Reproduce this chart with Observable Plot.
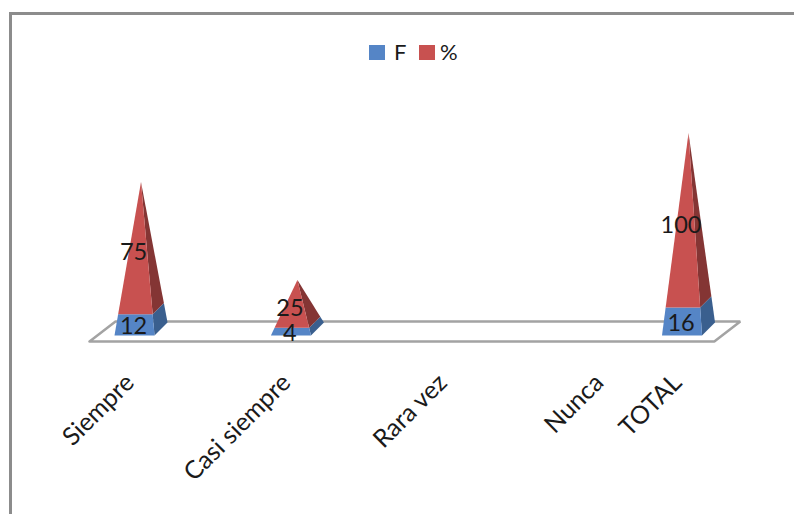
<!DOCTYPE html>
<html>
<head>
<meta charset="utf-8">
<script src="https://cdn.jsdelivr.net/npm/d3@7"></script>
<script src="https://cdn.jsdelivr.net/npm/@observablehq/plot@0.6"></script>
<style>
  html, body { margin: 0; padding: 0; background: #fff; overflow: hidden; }
  #sheet { position: relative; width: 794px; height: 514px; font-family: Lato, "Open Sans", sans-serif; color: #000; }
  #edge { position: absolute; left: 9px; top: 12px; right: 0; bottom: 0; border-top: 3px solid #8c8c8c; border-left: 3px solid #8c8c8c; }
  #legend { position: absolute; top: 38px; left: 369px; display: flex; align-items: center; font-size: 22px; line-height: 28px; color: #1a1a1a; }
  #legend i { display: inline-block; width: 16px; height: 15px; }
  #legend span { display: inline-block; width: 25px; margin: 0 0 0 9px; }
  #legend span:last-child { margin-left: 5px; width: auto; }
  #chart { position: absolute; left: 0; top: 80px; }
  #chart svg { display: block; background: transparent; }
</style>
</head>
<body>
<div id="sheet">
  <div id="edge"></div>
  <div id="legend"></div>
  <div id="chart"></div>
</div>
<script>
// Survey answers: frequency (F) and percentage (%) per response category.
const categories = ["Siempre", "Casi siempre", "Rara vez", "Nunca", "TOTAL"];
const slots = [0, 1, 2, 3, 3.5];
const frequency = [12, 4, null, null, 16];
const percent = [75, 25, null, null, 100];

const seriesNames = ["F", "%"];
const frontColors = ["#5585c6", "#c85150"];
const sideColors = ["#3a5f8e", "#843534"];

// Oblique projection of the pyramids, in scale units.
const halfWidth = 0.128;
const depthX = 0.0415;
const depthY = 3.85;

// Floor plate under the pyramids.
const floorX = [-0.329, 3.665];
const floorFrontY = -7.4;
const floorDepthX = 0.166;
const floorDepthY = 11.8;

const floor = [
  {x: floorX[0], y: floorFrontY},
  {x: floorX[1], y: floorFrontY},
  {x: floorX[1] + floorDepthX, y: floorFrontY + floorDepthY},
  {x: floorX[0] + floorDepthX, y: floorFrontY + floorDepthY},
  {x: floorX[0], y: floorFrontY}
];

// Each stacked column is one pyramid cut at the top of the F segment.
const faces = [];
const labels = [];
categories.forEach((name, i) => {
  const f = frequency[i];
  const p = percent[i];
  if (f == null || p == null) return;
  const c = slots[i];
  const total = f + p;
  const cut = f / total;
  const at = (px, py, t) => ({x: px + (c - px) * t, y: py + (total - py) * t});
  const fl = c - halfWidth - depthX, fr = c + halfWidth - depthX, br = c + halfWidth + depthX;
  const fy = -depthY, by = depthY;
  const add = (id, face, points) => points.forEach(pt => faces.push({id: name + id, face, x: pt.x, y: pt.y}));
  add("a", "F side", [at(fr, fy, 0), at(br, by, 0), at(br, by, cut), at(fr, fy, cut)]);
  add("b", "F front", [at(fl, fy, 0), at(fr, fy, 0), at(fr, fy, cut), at(fl, fy, cut)]);
  add("c", "% side", [at(fr, fy, cut), at(br, by, cut), at(c, total, 1)]);
  add("d", "% front", [at(fl, fy, cut), at(fr, fy, cut), at(c, total, 1)]);
  labels.push({x: c - depthX, y: f / 2 - depthY - 0.6, text: String(f)});
  labels.push({x: c - depthX, y: f + p / 2 - depthY - 0.6, text: String(p)});
});

const chart = Plot.plot({
  width: 794,
  height: 434,
  marginLeft: 0, marginRight: 0, marginTop: 0, marginBottom: 173,
  style: {fontFamily: "Lato, 'Open Sans', sans-serif", color: "#1a1a1a", background: "transparent"},
  x: {domain: [0, 3.5], range: [140.5, 688]},
  y: {domain: [floorFrontY, 147.04], range: [261, 0]},
  color: {
    domain: ["F front", "F side", "% front", "% side"],
    range: [frontColors[0], sideColors[0], frontColors[1], sideColors[1]]
  },
  marks: [
    Plot.line(floor, {x: "x", y: "y", stroke: "#a3a3a3", strokeWidth: 2.5, strokeLinejoin: "miter"}),
    Plot.line(faces, {x: "x", y: "y", z: "id", fill: "face", stroke: "none"}),
    Plot.text(labels, {x: "x", y: "y", text: "text", fontSize: 23.5, dx: -1, fill: "#1a1a1a"}),
    Plot.axisX({
      ticks: slots,
      tickFormat: v => categories[slots.indexOf(v)],
      tickSize: 0,
      tickPadding: 37,
      tickRotate: -45,
      fontSize: 25,
      label: null,
      dx: -11
    }),
    Plot.axisY({ticks: [], label: null})
  ]
});
document.getElementById("chart").append(chart);

// Legend row above the plot.
const legend = document.getElementById("legend");
seriesNames.forEach((name, i) => {
  const swatch = document.createElement("i");
  swatch.style.background = frontColors[i];
  const text = document.createElement("span");
  text.textContent = name;
  legend.append(swatch, text);
});
</script>
</body>
</html>
